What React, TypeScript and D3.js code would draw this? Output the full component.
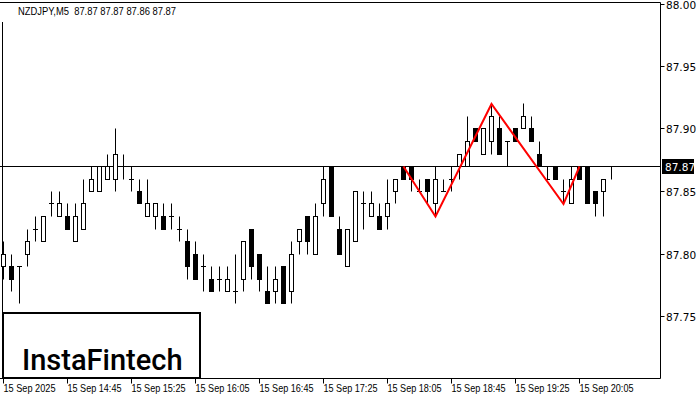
import React from "react";
import * as d3 from "d3";

const opens = [87.79,87.79,87.79,87.80,87.82,87.81,87.84,87.83,87.83,87.81,87.82,87.85,87.85,87.86,87.86,87.87,87.86,87.85,87.83,87.83,87.83,87.83,87.82,87.81,87.80,87.79,87.78,87.78,87.77,87.77,87.78,87.82,87.80,87.77,87.77,87.79,87.77,87.81,87.83,87.80,87.84,87.87,87.82,87.79,87.81,87.84,87.83,87.83,87.83,87.85,87.87,87.87,87.85,87.86,87.84,87.85,87.86,87.87,87.87,87.90,87.88,87.89,87.90,87.89,87.90,87.90,87.90,87.88,87.86,87.87,87.85,87.84,87.87,87.87,87.85,87.85,87.87];
const highs = [87.81,87.80,87.79,87.82,87.83,87.83,87.85,87.85,87.84,87.84,87.86,87.87,87.87,87.88,87.90,87.88,87.87,87.86,87.86,87.84,87.84,87.84,87.83,87.82,87.81,87.80,87.79,87.79,87.79,87.80,87.81,87.82,87.80,87.79,87.79,87.79,87.81,87.82,87.83,87.84,87.87,87.87,87.83,87.82,87.85,87.85,87.85,87.84,87.86,87.86,87.87,87.87,87.86,87.86,87.87,87.86,87.87,87.88,87.91,87.90,87.90,87.92,87.91,87.89,87.90,87.92,87.91,87.89,87.87,87.87,87.86,87.87,87.87,87.87,87.85,87.86,87.87];
const lows = [87.78,87.77,87.76,87.79,87.81,87.81,87.83,87.83,87.82,87.81,87.82,87.85,87.85,87.86,87.85,87.86,87.85,87.84,87.83,87.82,87.82,87.82,87.81,87.78,87.78,87.77,87.77,87.77,87.77,87.76,87.77,87.78,87.77,87.76,87.76,87.76,87.76,87.80,87.80,87.80,87.83,87.83,87.80,87.79,87.81,87.82,87.83,87.82,87.82,87.84,87.86,87.85,87.85,87.84,87.83,87.85,87.85,87.86,87.87,87.89,87.88,87.88,87.88,87.87,87.89,87.90,87.89,87.87,87.86,87.86,87.84,87.84,87.86,87.84,87.83,87.83,87.86];
const closes = [87.80,87.78,87.79,87.81,87.82,87.83,87.84,87.84,87.82,87.83,87.84,87.86,87.87,87.87,87.88,87.87,87.86,87.84,87.84,87.84,87.82,87.83,87.82,87.79,87.78,87.79,87.77,87.78,87.78,87.77,87.81,87.79,87.78,87.76,87.78,87.76,87.80,87.82,87.81,87.83,87.86,87.83,87.80,87.82,87.85,87.84,87.84,87.82,87.84,87.86,87.86,87.86,87.85,87.85,87.86,87.85,87.86,87.88,87.89,87.89,87.90,87.91,87.88,87.89,87.89,87.91,87.89,87.87,87.86,87.86,87.85,87.86,87.86,87.84,87.84,87.86,87.87];

const priceTicks = [88.0, 87.95, 87.9, 87.85, 87.8, 87.75];
const timeTickBars = [0, 8, 16, 24, 32, 40, 48, 56, 64, 72];
const timeTickLabels = ["15 Sep 2025","15 Sep 14:45","15 Sep 15:25","15 Sep 16:05","15 Sep 16:45","15 Sep 17:25","15 Sep 18:05","15 Sep 18:45","15 Sep 19:25","15 Sep 20:05"];
const patternBars = [50, 54, 61, 70, 72];
const patternPrices = [87.87, 87.83, 87.92, 87.84, 87.87];
const currentPrice = 87.87;
const title = "NZDJPY,M5  87.87 87.87 87.86 87.87";

const W = 700, H = 400;
const plotLeft = 2.5, plotRight = 660.5, plotTop = 2.5, plotBottom = 378.5;

export default function App() {
  const x = d3.scaleLinear().domain([0, 76]).range([3.5, 611.5]);
  const y = d3.scaleLinear().domain([87.7, 88.0]).range([379, 4]);
  const py = (v: number) => Math.floor(y(v)) + 0.5;
  const font = "'DejaVu Sans', 'Liberation Sans', sans-serif";
  const font2 = "'Liberation Sans', Arial, sans-serif";
  const line = d3.line<number>().x((d, i) => x(patternBars[i])).y((d) => y(d));

  return (
    <svg width={W} height={H} style={{ position: "fixed", left: 0, top: 0, background: "#fff" }}>
      <rect x={0} y={0} width={W} height={H} fill="#fff" />
      {/* frame */}
      <line x1={0} x2={plotRight} y1={plotTop} y2={plotTop} stroke="#000" />
      <line x1={plotRight} x2={plotRight} y1={plotTop} y2={plotBottom} stroke="#000" />
      <line x1={0} x2={plotRight} y1={plotBottom} y2={plotBottom} stroke="#000" />
      <line x1={plotLeft} x2={plotLeft} y1={22} y2={plotBottom} stroke="#000" />
      {/* current price line */}
      <line x1={0} x2={plotRight} y1={py(currentPrice)} y2={py(currentPrice)} stroke="#000" />
      {/* candles */}
      {opens.map((o, i) => {
        const c = closes[i];
        const cx = x(i);
        const top = py(Math.max(o, c));
        const bot = py(Math.min(o, c));
        return (
          <g key={i}>
            <line x1={cx} x2={cx} y1={py(highs[i])} y2={py(lows[i])} stroke="#000" />
            {o === c ? (
              <line x1={cx - 2.5} x2={cx + 2.5} y1={top} y2={top} stroke="#000" />
            ) : (
              <rect x={cx - 2} y={top} width={4} height={bot - top} fill={c < o ? "#000" : "#fff"} stroke="#000" />
            )}
          </g>
        );
      })}
      {/* pattern */}
      <path d={line(patternPrices) || ""} fill="none" stroke="#ff0000" strokeWidth={2} />
      {/* right axis */}
      {priceTicks.map((p) => (
        <g key={p}>
          <line x1={plotRight} x2={plotRight + 4} y1={py(p)} y2={py(p)} stroke="#000" />
          <text x={666} y={py(p) + 4} fontSize={10.5} fontFamily={font} fill="#000">{p.toFixed(2)}</text>
        </g>
      ))}
      <rect x={662} y={159} width={32} height={15} fill="#000" />
      <text x={665} y={py(currentPrice) + 4} fontSize={10.5} fontFamily={font} fill="#fff">{currentPrice.toFixed(2)}</text>
      {/* bottom axis */}
      {timeTickBars.map((b, i) => (
        <g key={b}>
          <line x1={x(b)} x2={x(b)} y1={plotBottom} y2={plotBottom + 5} stroke="#000" />
          <text x={x(b)} y={392} fontSize={10.5} fontFamily={font2} fill="#000" textLength={i === 0 ? 52 : 54} lengthAdjust="spacingAndGlyphs">{timeTickLabels[i]}</text>
        </g>
      ))}
      {/* title */}
      <text x={18} y={15} fontSize={10.5} fontFamily={font2} fill="#000" style={{ whiteSpace: "pre" }} textLength={158} lengthAdjust="spacingAndGlyphs">{title}</text>
      {/* logo */}
      <rect x={3} y={313} width={197} height={65} fill="#fff" stroke="#000" strokeWidth={2} />
      <text x={22} y={370} fontSize={29} fontFamily="Roboto, 'Open Sans', sans-serif" fontWeight={500} fill="#000">InstaFintech</text>
    </svg>
  );
}
